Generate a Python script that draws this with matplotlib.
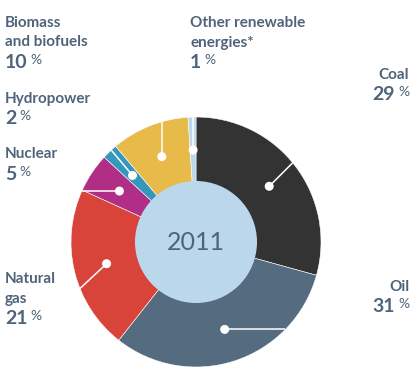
import numpy as np
import matplotlib
matplotlib.use("Agg")
import matplotlib.pyplot as plt
from matplotlib.patches import Circle

# ---- data ----
categories = ["Coal", "Oil", "Natural\ngas", "Nuclear", "Hydropower",
              "Biomass\nand biofuels", "Other renewable\nenergies*"]
shares = [29, 31, 21, 5, 2, 10, 1]
year_label = "2011"

# ---- style ----
colors = ["#333333", "#546b80", "#d8433a", "#b02e86", "#3497bb", "#e7ba4a", "#bad7ec"]
inner_color = "#bbd7ec"
text_color = "#4f647b"
# label anchor (x, first baseline in pixels from top), alignment
label_pos = [(409, 79, "right"), (409, 291, "right"), (5, 283, "left"), (5, 158, "left"),
             (5, 103, "left"), (5, 27, "left"), (190, 27, "left")]
leader_dir = [45, 0, 223, 180, 130, 90, 90]

W, H = 415, 390
fig = plt.figure(figsize=(W / 100, H / 100), dpi=100)
ax = fig.add_axes([0, 0, 1, 1])
ax.set_xlim(0, W)
ax.set_ylim(0, H)
ax.set_aspect("equal")
ax.axis("off")

cx, cy = 196, H - 242
R_out, R_in = 125, 60

wedges, _ = ax.pie(shares, colors=colors, startangle=90, counterclock=False,
                   center=(cx, cy), radius=R_out, frame=True,
                   wedgeprops=dict(width=R_out - R_in, edgecolor="white", linewidth=0.4))
ax.set_xlim(0, W)
ax.set_ylim(0, H)
ax.axis("off")
ax.add_patch(Circle((cx, cy), R_in + 1, facecolor=inner_color, edgecolor="none", zorder=3))
ax.text(cx, cy, year_label, ha="center", va="center", fontsize=18,
        family="Lato", color=text_color, zorder=4)

# dots and leaders
r_dot = 92
for w, d in zip(wedges, leader_dir):
    mid = np.deg2rad((w.theta1 + w.theta2) / 2)
    px, py = cx + r_dot * np.cos(mid), cy + r_dot * np.sin(mid)
    ux, uy = np.cos(np.deg2rad(d)), np.sin(np.deg2rad(d))
    bx, by = px - cx, py - cy
    b = bx * ux + by * uy
    c = bx * bx + by * by - R_out ** 2
    t = -b + np.sqrt(b * b - c)
    ax.plot([px, px + t * ux], [py, py + t * uy], color="white", lw=1.1, zorder=5,
            solid_capstyle="butt")
    ax.add_patch(Circle((px, py), 4.5, facecolor="white", edgecolor="none", zorder=6))

fig.canvas.draw()
renderer = fig.canvas.get_renderer()
line_h = 19.5
num_gap = 21.5
name_fs, num_fs, pct_fs = 11, 14, 10
pct_raise = 0.72 * (num_fs - pct_fs) * 100 / 72
for name, val, (lx, ly, ha) in zip(categories, shares, label_pos):
    lines = name.split("\n")
    y = ly
    for i, ln in enumerate(lines):
        ax.text(lx, H - y, ln, ha=ha, va="baseline", fontsize=name_fs, family="Lato",
                fontweight="bold", color=text_color)
        if i < len(lines) - 1:
            y += line_h
    ynum = H - (y + num_gap)
    if ha == "left":
        tn = ax.text(lx, ynum, str(val), ha="left", va="baseline", fontsize=num_fs,
                     family="Lato", fontweight="bold", color=text_color)
        bb = tn.get_window_extent(renderer)
        ax.text(bb.x1 + 3, ynum + pct_raise, "%", ha="left", va="baseline", fontsize=pct_fs,
                family="Lato", color=text_color)
    else:
        tp = ax.text(lx, ynum + pct_raise, "%", ha="right", va="baseline", fontsize=pct_fs,
                     family="Lato", color=text_color)
        bb = tp.get_window_extent(renderer)
        ax.text(bb.x0 - 3, ynum, str(val), ha="right", va="baseline", fontsize=num_fs,
                family="Lato", fontweight="bold", color=text_color)

fig.savefig("out.png", dpi=100)
